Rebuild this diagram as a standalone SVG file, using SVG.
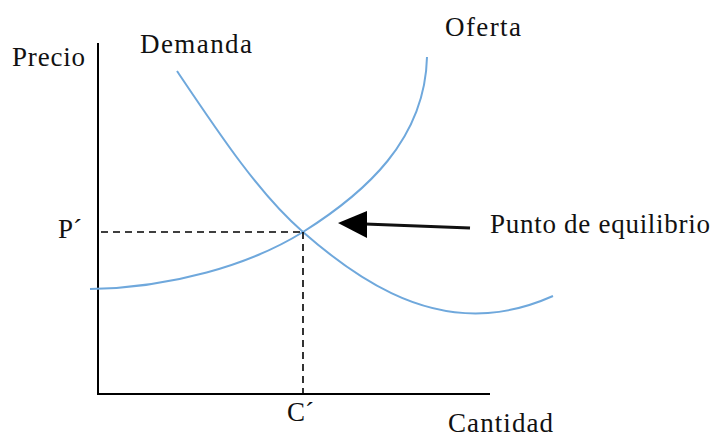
<svg xmlns="http://www.w3.org/2000/svg" width="717" height="439" viewBox="0 0 717 439">
<style>
text{font-family:"Liberation Serif","Times New Roman",serif;font-size:27px;fill:#111}
.axis{stroke:#000;stroke-width:2;fill:none}
.dash{stroke:#000;stroke-width:1.6;stroke-dasharray:7,5;fill:none}
.curve{stroke:#6fa8dc;stroke-width:2;fill:none}
.arrow{stroke:#111;stroke-width:3;fill:none}
</style>
<rect width="717" height="439" fill="#fff"/>
<g id="axes">
<line class="axis" x1="98" y1="43" x2="98" y2="395"/>
<line class="axis" x1="98" y1="394" x2="490" y2="394"/>
</g>
<g id="demanda">
<path class="curve" d="M177,71 C220,135 260,195 303,232 C360,282 420,318 488,313 C515,311 535,304 553,296"/>
<text x="140" y="53" textLength="112">Demanda</text>
</g>
<g id="oferta">
<path class="curve" d="M90,289 C170,288 250,265 303,232 C365,193 425,140 427,57"/>
<text x="445" y="36" textLength="76">Oferta</text>
</g>
<g id="labels">
<text x="12" y="66" textLength="73">Precio</text>
<text x="58" y="238">P´</text>
<text x="287" y="421">C´</text>
<text x="448" y="432" textLength="105">Cantidad</text>
</g>
<g id="equilibrio">
<text x="490" y="233" textLength="220">Punto de equilibrio</text>
</g>
<g id="connectors">
<path class="dash" d="M101,232 H303"/>
<path class="dash" d="M303,232 V394"/>
<line class="arrow" x1="470" y1="228" x2="365" y2="224"/>
<polygon points="338,223 367,211 367,238" fill="#000"/>
</g>
</svg>
